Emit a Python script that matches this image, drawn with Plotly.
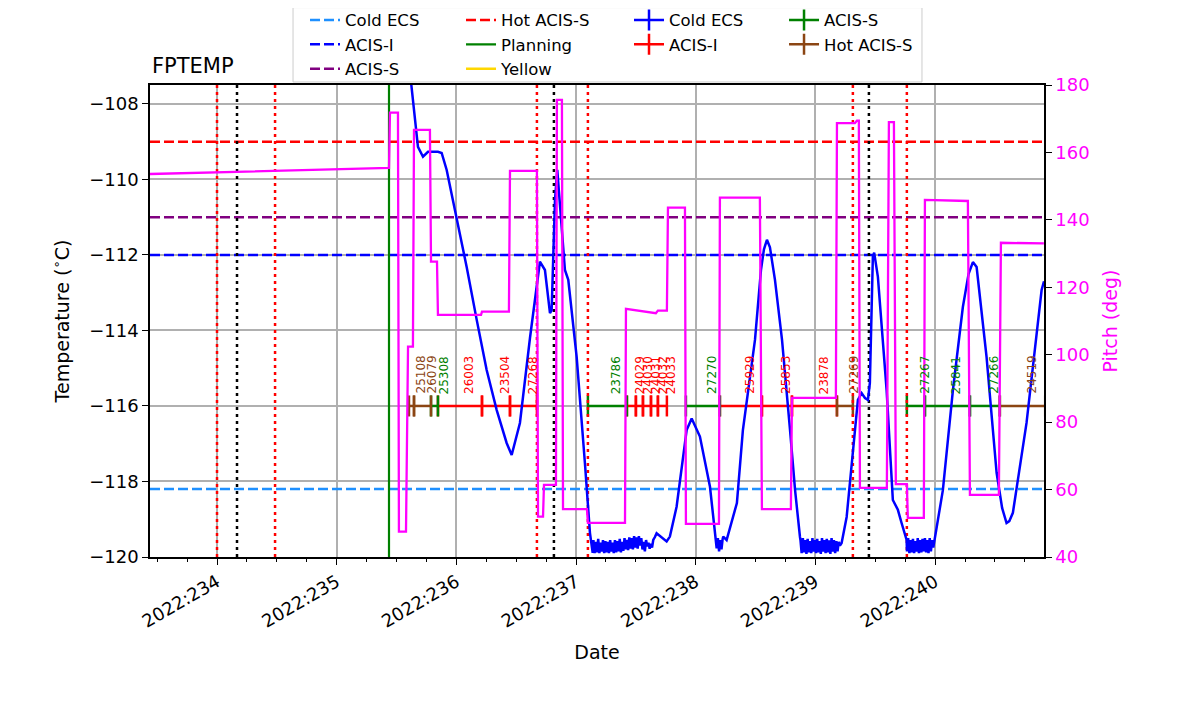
import plotly.graph_objects as go
from plotly.subplots import make_subplots

# axes: x is fractional day of year 2022
day_range = [233.44, 240.91]
temp_range = [-120.0, -107.5]
pitch_range = [40, 180]
day_ticks = [234, 235, 236, 237, 238, 239, 240]
day_labels = ['2022:234', '2022:235', '2022:236', '2022:237', '2022:238', '2022:239', '2022:240']

# limit lines
limit_names = ['Cold ECS', 'ACIS-I', 'ACIS-S', 'Hot ACIS-S']
limit_values = [-118.2, -112.0, -111.0, -109.0]
limit_colors = ['dodgerblue', 'blue', 'purple', 'red']
planning_time = 235.437

red_lines = [234.000, 234.485, 236.673, 237.099, 239.313, 239.764]
black_lines = [234.167, 236.815, 239.447]

# FPTEMP model/telemetry
fptemp_time = [
    235.600, 235.627, 235.654, 235.679, 235.721, 235.763, 235.846, 235.877,
    235.919, 236.003, 236.086, 236.170, 236.253, 236.337, 236.420, 236.462,
    236.531, 236.615, 236.671, 236.698, 236.740, 236.782, 236.796, 236.824,
    236.843, 236.880, 236.907, 236.935, 237.005, 237.074, 237.116, 237.139,
    237.145, 237.155, 237.165, 237.175, 237.185, 237.195, 237.205, 237.215,
    237.225, 237.235, 237.245, 237.255, 237.265, 237.275, 237.285, 237.295,
    237.305, 237.315, 237.325, 237.335, 237.345, 237.355, 237.365, 237.375,
    237.385, 237.395, 237.405, 237.415, 237.425, 237.435, 237.445, 237.455,
    237.465, 237.475, 237.485, 237.495, 237.505, 237.515, 237.525, 237.535,
    237.545, 237.555, 237.565, 237.575, 237.585, 237.595, 237.605, 237.615,
    237.625, 237.635, 237.645,
    237.659, 237.673, 237.757, 237.784, 237.840, 237.924, 237.966, 238.035,
    238.119, 238.160,
    238.175, 238.185, 238.195, 238.205, 238.215, 238.225,
    238.230, 238.258, 238.344, 238.394, 238.444, 238.495, 238.545, 238.570,
    238.595, 238.620, 238.662, 238.721, 238.788, 238.830, 238.871,
    238.875, 238.885, 238.895, 238.905, 238.915, 238.925, 238.935, 238.945,
    238.955, 238.965, 238.975, 238.985, 238.995, 239.005, 239.015, 239.025,
    239.035, 239.045, 239.055, 239.065, 239.075, 239.085, 239.095, 239.105,
    239.115, 239.125, 239.135, 239.145, 239.155, 239.165, 239.175, 239.185,
    239.195, 239.205,
    239.219, 239.261, 239.313, 239.355, 239.386, 239.414, 239.439, 239.455,
    239.480, 239.491, 239.522, 239.595, 239.647, 239.689, 239.720, 239.762,
    239.765, 239.775, 239.785, 239.795, 239.805, 239.815, 239.825, 239.835,
    239.845, 239.855, 239.865, 239.875, 239.885, 239.895, 239.905, 239.915,
    239.925, 239.935, 239.945, 239.955, 239.965, 239.975, 239.985,
    239.998, 240.065, 240.149, 240.232, 240.280, 240.316, 240.347, 240.390,
    240.430, 240.514, 240.560, 240.597, 240.620, 240.650, 240.764, 240.890,
    240.910,
]
fptemp_degc = [
    -106.80, -107.63, -108.50, -109.14, -109.40, -109.27, -109.27, -109.30,
    -109.75, -111.00, -112.32, -113.72, -115.05, -116.11, -116.98, -117.30,
    -116.45, -114.20, -112.74, -112.18, -112.40, -113.54, -113.46, -110.54,
    -109.75, -111.15, -112.40, -112.66, -114.70, -117.51, -119.36, -119.89,
    -119.55, -119.90, -119.60, -119.88, -119.52, -119.90, -119.62, -119.86,
    -119.55, -119.90, -119.58, -119.88, -119.60, -119.90, -119.55, -119.86,
    -119.62, -119.90, -119.55, -119.88, -119.58, -119.85, -119.52, -119.88,
    -119.60, -119.84, -119.50, -119.80, -119.55, -119.82, -119.48, -119.78,
    -119.50, -119.80, -119.45, -119.75, -119.48, -119.78, -119.45, -119.70,
    -119.50, -119.80, -119.60, -119.85, -119.55, -119.72, -119.62, -119.78,
    -119.65, -119.75, -119.55,
    -119.47, -119.37, -119.59, -119.46, -118.67, -116.64, -116.33, -116.81,
    -118.14, -119.46,
    -119.77, -119.50, -119.85, -119.55, -119.80, -119.52,
    -119.46, -119.55, -118.57, -116.64, -115.44, -114.25, -112.40, -111.85,
    -111.60, -111.80, -112.66, -114.25, -116.64, -118.23, -119.47,
    -119.55, -119.90, -119.50, -119.88, -119.55, -119.92, -119.52, -119.88,
    -119.58, -119.90, -119.50, -119.86, -119.55, -119.90, -119.52, -119.88,
    -119.58, -119.92, -119.50, -119.86, -119.55, -119.90, -119.52, -119.88,
    -119.56, -119.92, -119.50, -119.86, -119.55, -119.90, -119.58, -119.85,
    -119.60, -119.70,
    -119.63, -118.94, -117.17, -115.84, -115.66, -115.79, -115.84, -115.39,
    -112.05, -111.94, -112.58, -115.58, -118.49, -118.75, -119.10, -119.55,
    -119.85, -119.50, -119.90, -119.55, -119.88, -119.52, -119.90, -119.58,
    -119.86, -119.50, -119.90, -119.55, -119.88, -119.52, -119.85, -119.50,
    -119.88, -119.55, -119.90, -119.50, -119.85, -119.55, -119.75,
    -119.50, -118.23, -115.58, -113.38, -112.50, -112.19, -112.32, -113.59,
    -114.70, -117.77, -118.70, -119.10, -119.05, -118.83, -116.45, -112.93,
    -112.70,
]

# pitch
pitch_time = [
    233.440, 235.437, 235.445, 235.512, 235.520, 235.579, 235.596, 235.637,
    235.646, 235.779, 235.788, 235.838, 235.846, 236.206, 236.214, 236.439,
    236.448, 236.673, 236.682, 236.724, 236.732, 236.832, 236.840, 236.882,
    236.891, 237.091, 237.099, 237.409, 237.417, 237.667, 237.684, 237.759,
    237.768, 237.910, 237.918, 238.194, 238.202, 238.536, 238.553, 238.795,
    238.804, 239.171, 239.180, 239.330, 239.347, 239.363, 239.372, 239.597,
    239.614, 239.656, 239.672, 239.764, 239.772, 239.906, 239.915, 240.274,
    240.291, 240.533, 240.550, 240.909,
]
pitch_deg = [
    153.6, 155.4, 171.8, 171.8, 47.5, 47.5, 102.4, 102.4,
    166.7, 166.7, 127.6, 127.6, 111.8, 111.8, 112.8, 112.8,
    154.5, 154.5, 52.0, 52.0, 61.4, 61.4, 175.6, 175.6,
    54.2, 54.2, 50.1, 50.1, 113.6, 112.3, 113.1, 113.1,
    143.6, 143.6, 49.8, 49.8, 146.6, 146.6, 54.2, 54.2,
    87.2, 87.2, 168.7, 168.7, 169.4, 169.4, 60.5, 60.5,
    169.0, 169.0, 61.6, 61.6, 51.6, 51.6, 145.9, 145.6,
    58.4, 58.4, 133.2, 133.0,
]

# observations
obsid_level = -116.0
obsid_ids = ['25108', '26079', '25308', '26003', '23504', '27268', '23786',
             '24029', '24030', '24031', '24032', '24033', '27270', '25929',
             '25853', '23878', '27269', '27267', '25841', '27266', '24519']
obsid_start = [235.604, 235.646, 235.788, 235.846, 236.214, 236.448, 237.099,
               237.425, 237.500, 237.559, 237.626, 237.684, 237.918, 238.202,
               238.553, 238.804, 239.180, 239.764, 239.915, 240.291, 240.541]
obsid_stop = [235.646, 235.788, 235.846, 236.214, 236.448, 236.673, 237.425,
              237.500, 237.559, 237.626, 237.684, 237.759, 238.202, 238.553,
              238.804, 239.180, 239.313, 239.915, 240.291, 240.541, 240.920]
obsid_mode = ['Hot ACIS-S', 'Hot ACIS-S', 'ACIS-S', 'ACIS-I', 'ACIS-I', 'ACIS-I', 'ACIS-S',
              'ACIS-I', 'ACIS-I', 'ACIS-I', 'ACIS-I', 'ACIS-I', 'ACIS-S', 'ACIS-I',
              'ACIS-I', 'ACIS-I', 'Hot ACIS-S', 'ACIS-S', 'ACIS-S', 'ACIS-S', 'Hot ACIS-S']
mode_names = ['Cold ECS', 'ACIS-I', 'ACIS-S', 'Hot ACIS-S']
mode_colors = {'Cold ECS': 'blue', 'ACIS-I': 'red', 'ACIS-S': 'green',
               'Hot ACIS-S': 'saddlebrown'}

fig = make_subplots(specs=[[{'secondary_y': True}]])

# limit lines -> legend columns 1 and 2
for i, (name, val, col) in enumerate(zip(limit_names, limit_values, limit_colors)):
    fig.add_trace(go.Scatter(
        x=day_range, y=[val, val], mode='lines', name=name,
        line=dict(color=col, width=2.5, dash='10px,4px'),
        legend='legend' if i < 3 else 'legend2', hoverinfo='skip'
    ), secondary_y=False)

fig.add_trace(go.Scatter(
    x=[planning_time, planning_time], y=temp_range, mode='lines', name='Planning',
    line=dict(color='green', width=2.2), legend='legend2'
), secondary_y=False)
fig.add_trace(go.Scatter(
    x=[None], y=[None], mode='lines', name='Yellow',
    line=dict(color='gold', width=2.5), legend='legend2'
), secondary_y=False)

# obsid bars
for j, mode in enumerate(mode_names):
    xs, ys = [], []
    for s, e, m in zip(obsid_start, obsid_stop, obsid_mode):
        if m == mode:
            xs += [s, e, None]
            ys += [obsid_level, obsid_level, None]
    if not xs:
        xs, ys = [None], [None]
    fig.add_trace(go.Scatter(
        x=xs, y=ys, mode='lines+markers', name=mode,
        line=dict(color=mode_colors[mode], width=2.5),
        marker=dict(symbol='line-ns', size=15,
                    line=dict(width=2.5, color=mode_colors[mode])),
        legend='legend3' if j < 2 else 'legend4'
    ), secondary_y=False)

for oid, s, e, m in zip(obsid_ids, obsid_start, obsid_stop, obsid_mode):
    fig.add_annotation(
        x=(s + e) / 2, y=obsid_level, text=oid, textangle=-90,
        showarrow=False, xanchor='left', yanchor='bottom', yshift=10,
        font=dict(size=12, color=mode_colors[m])
    )

# vertical event lines
for times, col in [(red_lines, 'red'), (black_lines, 'black')]:
    xs, ys = [], []
    for t in times:
        xs += [t, t, None]
        ys += [temp_range[0], temp_range[1], None]
    fig.add_trace(go.Scatter(
        x=xs, y=ys, mode='lines', showlegend=False,
        line=dict(color=col, width=2.5, dash='3px,4px')
    ), secondary_y=False)

fig.add_trace(go.Scatter(
    x=fptemp_time, y=fptemp_degc, mode='lines', showlegend=False,
    line=dict(color='blue', width=2.5)
), secondary_y=False)

fig.add_trace(go.Scatter(
    x=pitch_time, y=pitch_deg, mode='lines', showlegend=False,
    line=dict(color='magenta', width=2.3)
), secondary_y=True)

legend_style = dict(font=dict(size=16.5, color='black'), bgcolor='rgba(0,0,0,0)',
                    xanchor='left', yanchor='top', y=1.1744, tracegroupgap=0)

# page body adds an 8px offset, so the figure is 8px smaller on each side
fig.update_layout(
    width=1192, height=706,
    margin=dict(l=142, r=156, t=77, b=157, autoexpand=False),
    paper_bgcolor='white', plot_bgcolor='white',
    font=dict(family='DejaVu Sans', size=17, color='black'),
    legend=dict(x=0.1734, **legend_style),
    legend2=dict(x=0.3479, **legend_style),
    legend3=dict(x=0.5358, **legend_style),
    legend4=dict(x=0.7092, **legend_style),
    shapes=[dict(type='rect', xref='paper', yref='paper', x0=0.160, x1=0.8635,
                 y0=1.0064, y1=1.164, line=dict(color='#cccccc', width=1),
                 fillcolor='white', layer='below')],
)
fig.add_annotation(text='FPTEMP', xref='paper', yref='paper', x=0, y=1,
                   xanchor='left', yanchor='bottom', yshift=5, showarrow=False,
                   font=dict(size=21))

fig.update_xaxes(
    domain=[0, 1],
    range=day_range, tickmode='array', tickvals=day_ticks, ticktext=day_labels,
    tickangle=-30, ticks='outside', ticklen=6, tickwidth=1.3, tickcolor='black',
    tickfont=dict(size=18),
    showline=True, linecolor='black', linewidth=1.5, mirror=True,
    showgrid=True, gridcolor='#b0b0b0', gridwidth=1.5, zeroline=False,
    minor=dict(tickmode='linear', tick0=234, dtick=0.25, ticks='outside',
               ticklen=3.5, tickcolor='black', showgrid=False),
    title=dict(text='Date', font=dict(size=19))
)
fig.update_yaxes(
    range=temp_range, tickmode='linear', tick0=-120, dtick=2,
    ticks='outside', ticklen=6, tickwidth=1.3, tickcolor='black',
    tickfont=dict(size=18),
    showline=True, linecolor='black', linewidth=1.5,
    showgrid=True, gridcolor='#b0b0b0', gridwidth=1.5, zeroline=False,
    title=dict(text='Temperature (<sup>∘</sup>C)', font=dict(size=19)),
    secondary_y=False
)
fig.update_yaxes(
    range=pitch_range, tickmode='linear', tick0=40, dtick=20,
    ticks='outside', ticklen=6, tickwidth=1.3, tickcolor='black',
    showline=True, linecolor='black', linewidth=1.5,
    showgrid=False, zeroline=False, tickfont=dict(size=18, color='magenta'),
    title=dict(text='Pitch (deg)', font=dict(size=19, color='magenta')),
    secondary_y=True
)

fig.write_html('out.html')
